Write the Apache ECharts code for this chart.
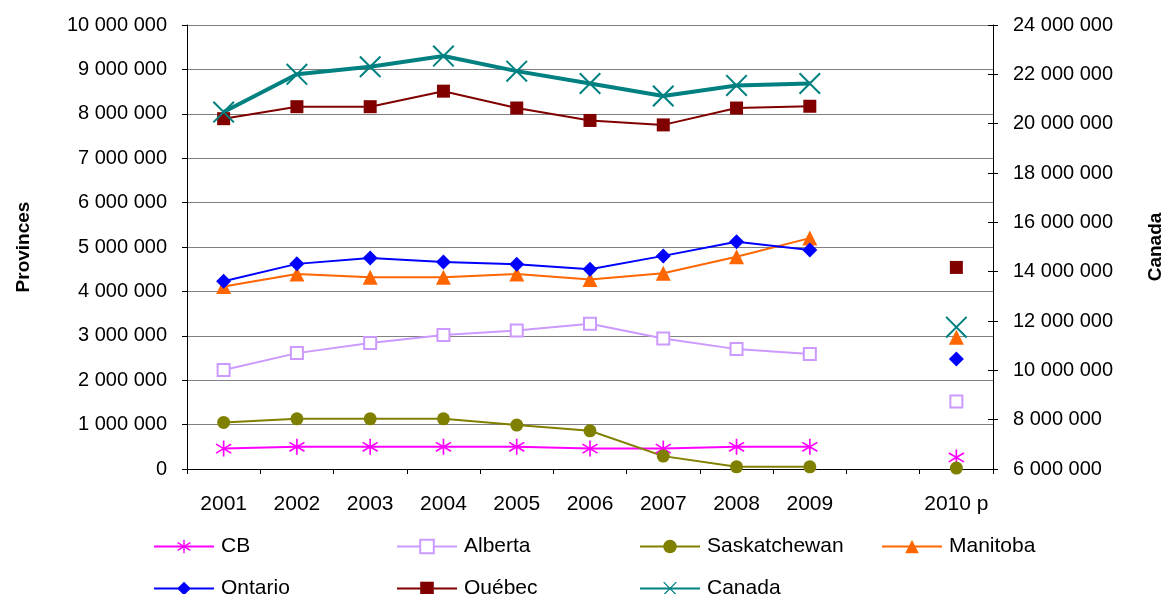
<!DOCTYPE html>
<html>
<head>
<meta charset="utf-8">
<script src="https://cdn.jsdelivr.net/npm/echarts@6/dist/echarts.min.js"></script>
<style>
html,body{margin:0;padding:0;background:#fff;}
#chart{width:1164px;height:594px;}
</style>
</head>
<body>
<div id="chart"></div>
<script>
var categories = ['2001','2002','2003','2004','2005','2006','2007','2008','2009','','2010 p'];
var cb        = [460000, 500000, 500000, 500000, 500000, 460000, 460000, 500000, 500000, null, 260000];
var alberta   = [2230000, 2610000, 2840000, 3020000, 3120000, 3270000, 2940000, 2700000, 2590000, null, 1520000];
var saskatch  = [1050000, 1130000, 1130000, 1130000, 990000, 860000, 290000, 50000, 50000, null, 20000];
var manitoba  = [4110000, 4390000, 4320000, 4320000, 4390000, 4270000, 4410000, 4780000, 5200000, null, 2970000];
var ontario   = [4230000, 4620000, 4750000, 4660000, 4610000, 4500000, 4800000, 5120000, 4930000, null, 2480000];
var quebec    = [7890000, 8160000, 8160000, 8510000, 8130000, 7850000, 7750000, 8130000, 8170000, null, 4540000];
var canada    = [20470000, 22000000, 22310000, 22740000, 22130000, 21630000, 21120000, 21550000, 21630000, null, 11750000];

var FONT = '"Liberation Sans", Arial, sans-serif';
function fmt(v){ return String(v).replace(/\B(?=(\d{3})+(?!\d))/g, ' '); }

var asterisk = 'path://M45,0 L45,100 L55,100 L55,0 Z ' +
  'M2.3,26.2 L92.3,82.2 L97.7,73.8 L7.7,17.8 Z ' +
  'M7.7,82.2 L97.7,26.2 L92.3,17.8 L2.3,73.8 Z';
var cross = 'path://M-3.5,3.5 L96.5,103.5 L103.5,96.5 L3.5,-3.5 Z M3.5,103.5 L103.5,3.5 L96.5,-3.5 L-3.5,96.5 Z';

function lineSeries(name, data, color, symbol, size, extra){
  var s = {
    name: name, type: 'line', data: data, yAxisIndex: 0,
    connectNulls: false, showAllSymbol: true,
    symbol: symbol, symbolSize: size,
    lineStyle: {color: color, width: 2},
    itemStyle: {color: color, borderColor: color, borderWidth: 0},
    emphasis: {disabled: true}
  };
  if (extra) for (var k in extra) s[k] = extra[k];
  return s;
}

var series = [
  lineSeries('CB', cb, '#FF00FF', asterisk, 16),
  lineSeries('Alberta', alberta, '#CC99FF', 'rect', 12, {itemStyle:{color:'#ffffff', borderColor:'#CC99FF', borderWidth:2}}),
  lineSeries('Saskatchewan', saskatch, '#808000', 'circle', 13),
  lineSeries('Manitoba', manitoba, '#FF6600', 'triangle', 15),
  lineSeries('Ontario', ontario, '#0000FF', 'diamond', 15),
  lineSeries('Québec', quebec, '#800000', 'rect', 13),
  lineSeries('Canada', canada, '#008080', cross, 22, {yAxisIndex: 1, lineStyle:{color:'#008080', width:4}})
];

var legendPos = [
  ['CB', 153, 536], ['Alberta', 396, 536], ['Saskatchewan', 639, 536], ['Manitoba', 881, 536],
  ['Ontario', 153, 578], ['Québec', 396, 578], ['Canada', 639, 578]
];
var legends = legendPos.map(function(p){
  return {
    data: [p[0]], left: p[1], top: p[2], orient: 'horizontal', padding: 0,
    itemWidth: 60, itemHeight: 17, itemGap: 0, selectedMode: false,
    textStyle: {fontFamily: FONT, fontSize: 21, color: '#000', padding: [0,0,0,2]}
  };
});

var chart = echarts.init(document.getElementById('chart'), null, {renderer: 'canvas'});
chart.setOption({
  animation: false,
  backgroundColor: '#ffffff',
  grid: {left: 187, right: 171, top: 25, bottom: 125, containLabel: false, outerBoundsMode: 'none'},
  legend: legends,
  xAxis: {
    type: 'category', data: categories, boundaryGap: true,
    axisLine: {lineStyle: {color: '#000', width: 1}},
    axisTick: {show: true, interval: 0, length: 5, lineStyle: {color: '#000'}},
    axisLabel: {interval: 0, margin: 25, fontFamily: FONT, fontSize: 21, color: '#000'},
    splitLine: {show: false}
  },
  yAxis: [
    {
      type: 'value', position: 'left', min: 0, max: 10000000, interval: 1000000,
      name: 'Provinces', nameLocation: 'middle', nameGap: 154, nameRotate: 90,
      nameTextStyle: {fontFamily: FONT, fontSize: 19, fontWeight: 'bold', color: '#000'},
      axisLine: {show: true, lineStyle: {color: '#000', width: 1}},
      axisTick: {show: true, length: 5, lineStyle: {color: '#000'}},
      axisLabel: {margin: 20, fontFamily: FONT, fontSize: 20, color: '#000', formatter: fmt},
      splitLine: {show: true, lineStyle: {color: '#808080', width: 1}}
    },
    {
      type: 'value', position: 'right', min: 6000000, max: 24000000, interval: 2000000,
      name: 'Canada', nameLocation: 'middle', nameGap: 153, nameRotate: 90,
      nameTextStyle: {fontFamily: FONT, fontSize: 19, fontWeight: 'bold', color: '#000'},
      axisLine: {show: true, lineStyle: {color: '#000', width: 1}},
      axisTick: {show: true, length: 5, lineStyle: {color: '#000'}},
      axisLabel: {margin: 20, fontFamily: FONT, fontSize: 20, color: '#000', formatter: fmt},
      splitLine: {show: false}
    },
    {
      type: 'value', position: 'right', min: 6000000, max: 24000000, interval: 2000000,
      axisLine: {show: false},
      axisTick: {show: true, inside: true, length: 5, lineStyle: {color: '#000'}},
      axisLabel: {show: false},
      splitLine: {show: false}
    }
  ],
  series: series
});
</script>
</body>
</html>
